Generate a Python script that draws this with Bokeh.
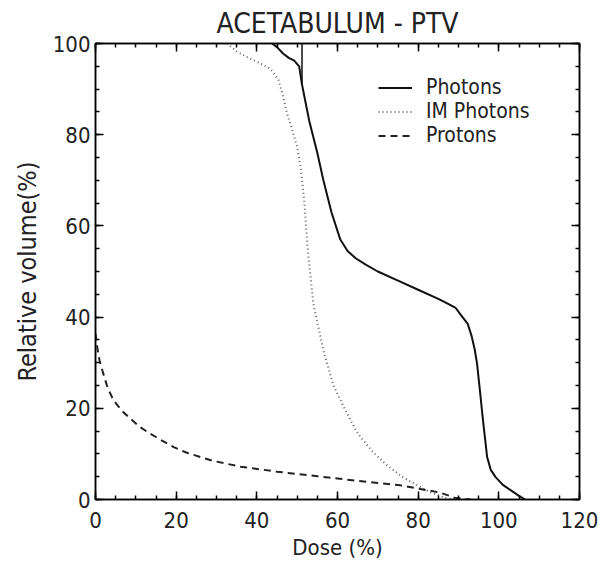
from bokeh.plotting import figure
from bokeh.models import Range1d, LinearAxis, Legend, LegendItem, SingleIntervalTicker
from bokeh.embed import file_html
from bokeh.resources import INLINE

FONT = "DejaVu Sans Condensed, DejaVu Sans, sans-serif"

# Photons (solid)
photons_dose = [43.8, 45.0, 46.5, 48.0, 49.2, 50.5, 51.2, 53.0, 55.0, 56.5, 58.5, 60.7, 62.5, 64.5,
                67.0, 70.0, 75.0, 80.0, 85.0, 87.2, 89.3, 91.0, 92.3, 93.2, 94.0, 94.6, 95.3, 95.9,
                96.5, 97.1, 98.0, 99.2, 101.0, 103.0, 105.0, 106.5]
photons_vol = [100, 99.2, 97.8, 96.8, 96.3, 95.0, 91.0, 83.0, 76.0, 70.0, 63.0, 57.0, 54.5, 52.9,
               51.5, 50.0, 48.0, 46.0, 44.0, 43.0, 42.0, 40.0, 38.5, 36.0, 33.0, 29.8, 24.0, 18.8,
               14.0, 9.3, 6.5, 4.9, 3.2, 2.0, 0.8, 0.0]
photons_step_dose = [51.2, 51.2]
photons_step_vol = [100, 91]

# IM Photons (dotted)
im_dose = [32.6, 35.0, 37.6, 40.5, 43.4, 45.4, 46.5, 47.5, 48.8, 50.0, 51.0, 51.8, 52.6, 54.0,
           56.5, 59.0, 62.0, 65.0, 68.5, 72.0, 76.0, 80.0, 83.0, 86.5, 89.0]
im_vol = [100, 98.3, 97.0, 95.8, 94.4, 91.9, 88.5, 84.6, 81.0, 77.3, 72.0, 65.0, 55.0, 43.0,
          32.7, 25.0, 19.5, 14.5, 10.7, 7.7, 5.0, 3.0, 1.6, 0.4, 0.0]

# Protons (dashed)
pr_dose = [0, 0.5, 1.0, 1.7, 3.0, 4.5, 6.5, 8.7, 11.0, 13.6, 16.5, 19.4, 22.5, 26.0, 29.0, 32.7,
           36.0, 40.1, 45.0, 50.0, 55.0, 60.0, 65.0, 70.0, 75.6, 80.0, 85.5, 89.0, 93.0]
pr_vol = [36.4, 33.0, 30.5, 28.3, 24.5, 21.7, 19.5, 17.7, 15.9, 14.4, 12.9, 11.5, 10.3, 9.3, 8.5,
          7.8, 7.2, 6.7, 6.1, 5.6, 5.1, 4.6, 4.1, 3.6, 3.1, 2.4, 1.5, 0.4, 0.0]

x_ticks = [0, 20, 40, 60, 80, 100, 120]
y_ticks = [0, 20, 40, 60, 80, 100]

p = figure(width=598, height=573, output_backend="svg", toolbar_location=None,
           x_range=Range1d(0, 120), y_range=Range1d(0, 100),
           min_border_left=95, min_border_right=19, min_border_top=43, min_border_bottom=74,
           title="ACETABULUM - PTV")
p.title.align = "center"
p.title.text_font = FONT
p.title.text_font_size = "28px"
p.title.text_font_style = "normal"
p.title.text_color = "#222222"
p.title.offset = 0
p.title.standoff = 8
p.outline_line_color = "black"
p.outline_line_width = 1.5
p.grid.visible = False
p.background_fill_color = "white"
p.border_fill_color = "white"

def style_axis(ax, show_labels=True):
    ax.ticker = SingleIntervalTicker(interval=20, num_minor_ticks=4)
    ax.major_tick_in = 8
    ax.major_tick_out = 0
    ax.minor_tick_in = 4
    ax.minor_tick_out = 0
    ax.axis_line_width = 1.5
    ax.major_tick_line_width = 1.5
    ax.minor_tick_line_width = 1.5
    ax.major_label_text_font = FONT
    ax.major_label_text_font_size = "22px"
    ax.major_label_text_color = "#222222"
    ax.axis_label_text_font = FONT
    ax.axis_label_text_font_size = "22px"
    ax.axis_label_text_font_style = "normal"
    ax.axis_label_text_color = "#222222"
    if not show_labels:
        ax.major_label_text_font_size = "0px"
        ax.major_label_text_color = None
        ax.major_label_text_alpha = 0
        ax.major_label_standoff = 0

style_axis(p.xaxis[0])
style_axis(p.yaxis[0])
p.xaxis[0].axis_label = "Dose (%)"
p.yaxis[0].axis_label = "Relative volume(%)"
p.yaxis[0].axis_label_text_font_size = "25px"
p.xaxis[0].major_label_standoff = 12
p.yaxis[0].major_label_standoff = 5
p.xaxis[0].axis_label_standoff = 4
p.yaxis[0].axis_label_standoff = 8

top_ax = LinearAxis()
right_ax = LinearAxis()
style_axis(top_ax, False)
style_axis(right_ax, False)
p.add_layout(top_ax, "above")
p.add_layout(right_ax, "right")

r1 = p.line(photons_dose, photons_vol, line_color="#111111", line_width=2)
p.line(photons_step_dose, photons_step_vol, line_color="#111111", line_width=1.5)
r2 = p.line(im_dose, im_vol, line_color="#666666", line_width=2, line_dash="1 3")
r3 = p.line(pr_dose, pr_vol, line_color="#222222", line_width=2, line_dash="7 5")

legend = Legend(items=[LegendItem(label="Photons", renderers=[r1]),
                       LegendItem(label="IM Photons", renderers=[r2]),
                       LegendItem(label="Protons", renderers=[r3])],
                location=(283, 352))
legend.border_line_color = None
legend.background_fill_alpha = 0
legend.label_text_font = FONT
legend.label_text_font_size = "21px"
legend.label_text_color = "#222222"
legend.glyph_width = 34
legend.label_standoff = 14
legend.spacing = 0
legend.padding = 0
legend.margin = 0
legend.label_height = 23
legend.glyph_height = 23
p.add_layout(legend, "center")

open("out.html", "w").write(file_html(p, INLINE))
